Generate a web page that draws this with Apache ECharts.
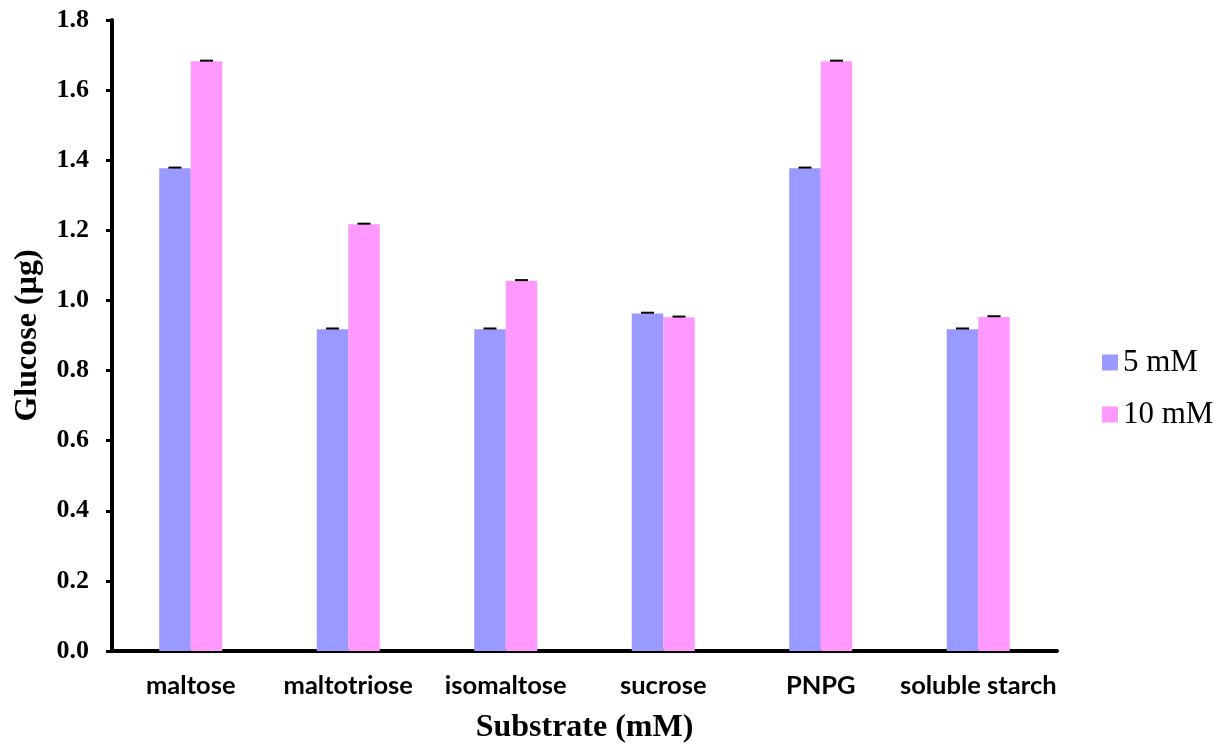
<!DOCTYPE html>
<html><head><meta charset="utf-8">
<script src="https://cdn.jsdelivr.net/npm/echarts@6/dist/echarts.min.js"></script>
<style>html,body{margin:0;padding:0;background:#fff;}#c{width:1220px;height:745px;}</style>
</head><body><div id="c"></div>
<script>
const categories = ['maltose', 'maltotriose', 'isomaltose', 'sucrose', 'PNPG', 'soluble starch'];
const series5mM = [1.377, 0.918, 0.918, 0.963, 1.377, 0.918];
const series10mM = [1.682, 1.217, 1.056, 0.952, 1.682, 0.953];
const err5mM = [0.002, 0.002, 0.002, 0.002, 0.002, 0.002];
const err10mM = [0.002, 0.002, 0.002, 0.002, 0.002, 0.002];
const yTicks = [0, 0.2, 0.4, 0.6, 0.8, 1.0, 1.2, 1.4, 1.6, 1.8];

const C5 = '#9999FF', C10 = '#FF99FF';
const chart = echarts.init(document.getElementById('c'), null, {renderer: 'canvas'});

function errSeries(vals, errs, side) {
  return {
    type: 'custom',
    silent: true,
    z: 5,
    data: vals.map((v, i) => [i, v, errs[i]]),
    renderItem: function (params, api) {
      const i = api.value(0), v = api.value(1), e = api.value(2);
      const band = api.size([1, 0])[0];
      const top = api.coord([i, v + e]);
      const bot = api.coord([i, v]);
      const x = top[0] + side * band * 0.1;
      const half = 6.5;
      return {
        type: 'group',
        children: [
          {type: 'line', shape: {x1: x, y1: bot[1], x2: x, y2: top[1]}, style: {stroke: '#000', lineWidth: 1}},
          {type: 'line', shape: {x1: x - half, y1: top[1], x2: x + half, y2: top[1]}, style: {stroke: '#000', lineWidth: 2}}
        ]
      };
    }
  };
}

chart.setOption({
  animation: false,
  backgroundColor: '#fff',
  grid: {left: 112, right: 163, top: 20, bottom: 94, containLabel: false, outerBoundsMode: 'none'},
  legend: {
    orient: 'vertical',
    left: 1097,
    top: 342,
    itemWidth: 16,
    itemHeight: 16,
    itemGap: 21,
    icon: 'rect',
    data: ['5 mM', '10 mM'],
    textStyle: {fontFamily: 'Liberation Serif', fontSize: 31, color: '#000', padding: [0, 0, 0, 0]}
  },
  xAxis: {
    type: 'category',
    data: categories,
    name: 'Substrate (mM)',
    nameLocation: 'middle',
    nameGap: 61,
    nameTextStyle: {fontFamily: 'Liberation Serif', fontWeight: 'bold', fontSize: 32, color: '#000'},
    axisLine: {lineStyle: {color: '#000', width: 4}},
    axisTick: {show: false},
    axisLabel: {fontFamily: 'Lato', fontWeight: 'bold', fontSize: 25.5, color: '#000', margin: 22, interval: 0}
  },
  yAxis: {
    type: 'value',
    min: 0,
    max: 1.8,
    interval: 0.2,
    name: 'Glucose (µg)',
    nameLocation: 'middle',
    nameGap: 68,
    nameTextStyle: {fontFamily: 'Liberation Serif', fontWeight: 'bold', fontSize: 32, color: '#000'},
    splitLine: {show: false},
    axisLine: {show: true, lineStyle: {color: '#000', width: 4}},
    axisTick: {show: true, length: 6, lineStyle: {color: '#000', width: 3}},
    axisLabel: {
      fontFamily: 'Liberation Serif', fontWeight: 'bold', fontSize: 26, color: '#000', margin: 23,
      formatter: function (v) { return yTicks.indexOf(+v.toFixed(1)) >= 0 ? v.toFixed(1) : ''; }
    }
  },
  series: [
    {name: '5 mM', type: 'bar', data: series5mM, barWidth: '20%', barGap: '0%', itemStyle: {color: C5}},
    {name: '10 mM', type: 'bar', data: series10mM, barWidth: '20%', barGap: '0%', itemStyle: {color: C10}},
    errSeries(series5mM, err5mM, -1),
    errSeries(series10mM, err10mM, 1)
  ]
});
</script>
</body></html>
